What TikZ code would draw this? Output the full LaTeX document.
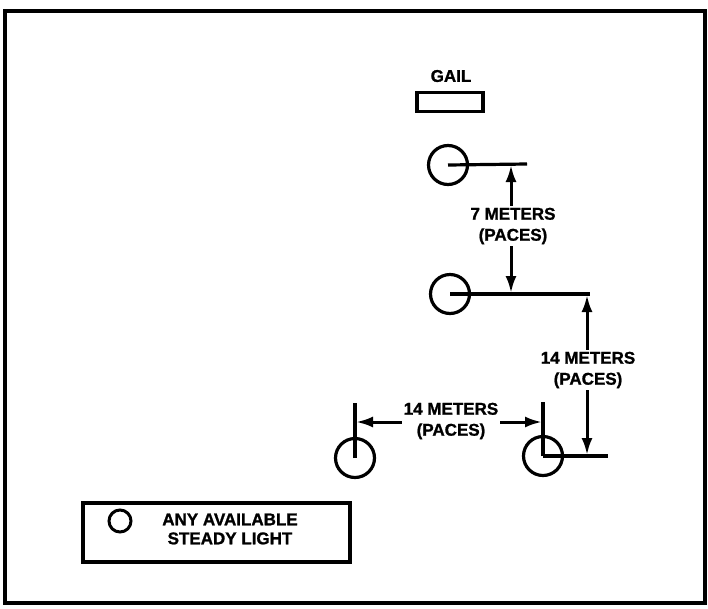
\documentclass[tikz,border=0pt]{standalone}
\usepackage{fontspec}
\setmainfont{Liberation Sans}[BoldFeatures={FakeBold=1.2}]
\usetikzlibrary{arrows.meta}
\begin{document}
\begin{tikzpicture}[x=1pt, y=-1pt, font=\fontsize{17}{21}\selectfont\bfseries,
  lamp/.style={circle, draw, line width=3.2pt, minimum size=39pt, inner sep=0pt},
  stake/.style={line width=3.2pt},
  dim/.style={line width=3pt, -{Latex[length=17pt,width=11pt]}},
  lbl/.style={align=center, inner sep=2pt}]
  \useasboundingbox (0,0) rectangle (708,608);
  \draw[line width=3.6pt] (5,11) rectangle (705,603);
  % car and lights
  \node[lbl] (gail) at (451,76) {GAIL};
  \node[draw, line width=3.2pt, minimum width=66pt, minimum height=19pt, inner sep=0pt] (car) at (450,102) {};
  \node[lamp] (c1) at (448,165) {};
  \node[lamp] (c2) at (450,294) {};
  \node[lamp] (c3) at (543,456) {};
  \node[lamp] (c4) at (355,458) {};
  \coordinate (e1) at (527,164);
  \coordinate (e2) at (590,294);
  \coordinate (e3) at (608,456);
  \coordinate (t3) at (543,402);
  \coordinate (t4) at (355,403);
  \draw[stake] (c1.center) -- (e1);
  \draw[stake] (c2.center) -- (e2);
  \draw[stake] (c3.center) -- (e3);
  \draw[stake] (c3.center) -- (t3);
  \draw[stake] (c4.center) -- (t4);
  % distances
  \node[lbl] (m7) at (513,226) {7 METERS\\(PACES)};
  \node[lbl] (m14a) at (588,370) {14 METERS\\(PACES)};
  \node[lbl] (m14b) at (451,421) {14 METERS\\(PACES)};
  \coordinate (a1) at (511,165);
  \coordinate (a2) at (511,293);
  \coordinate (a3) at (587,295);
  \coordinate (a4) at (587,455);
  \coordinate (a5) at (356,422);
  \coordinate (a6) at (542,422);
  \draw[dim] (m7.north -| a1) -- (a1);
  \draw[dim] (m7.south -| a2) -- (a2);
  \draw[dim] (m14a.north -| a3) -- (a3);
  \draw[dim] (m14a.south -| a4) -- (a4);
  \draw[dim] (m14b.west |- a5) -- (a5);
  \draw[dim] (m14b.east |- a6) -- (a6);
  % legend
  \node[draw, line width=3.2pt, minimum width=267pt, minimum height=59pt, inner sep=0pt] (key) at (216.5,532.5) {};
  \node[circle, draw, line width=3pt, minimum size=22pt, inner sep=0pt] (keylamp) at (120,521) {};
  \node[lbl, font=\fontsize{17}{19}\selectfont\bfseries] (keytext) at (230,529) {ANY AVAILABLE\\STEADY LIGHT};
\end{tikzpicture}
\end{document}
